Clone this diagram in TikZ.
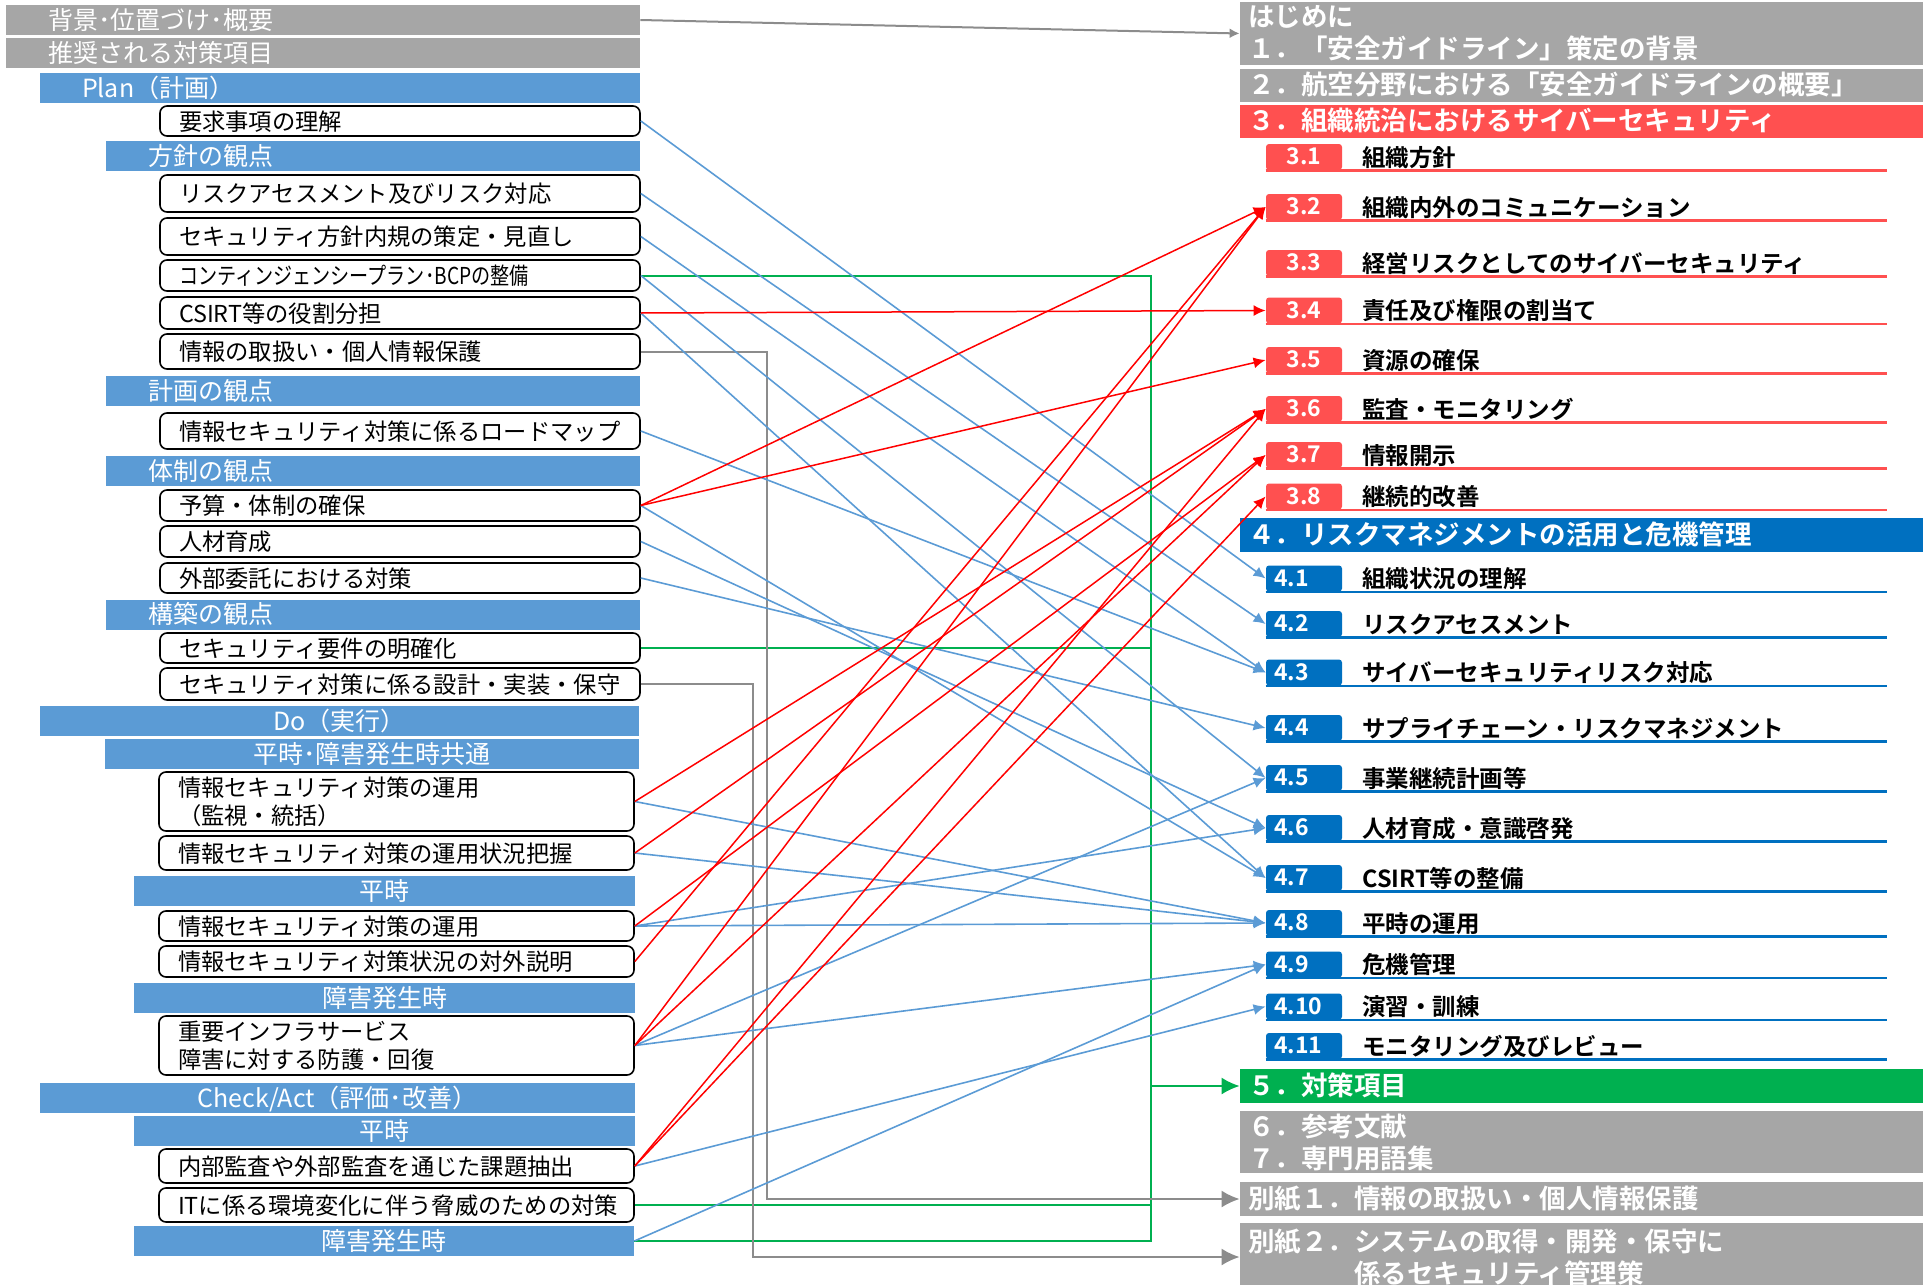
\documentclass[tikz,border=0pt]{standalone}
\usepackage{fontspec}
\usepackage{graphicx}
\usetikzlibrary{arrows.meta}
\newfontfamily\jp{Noto Sans CJK JP}[BoldFont={Noto Sans CJK JP Bold}]
\definecolor{barblue}{HTML}{5B9BD5}
\definecolor{boxgray}{HTML}{A6A6A6}
\definecolor{secred}{HTML}{FF5050}
\definecolor{secblue}{HTML}{0070C0}
\definecolor{secgreen}{HTML}{00B050}
\definecolor{linkred}{HTML}{FF0000}
\definecolor{linkgray}{HTML}{8C8C8C}
\begin{document}
\begin{tikzpicture}[x=0.5pt,y=-0.5pt]
	\tikzset{lbar/.style={fill=barblue, text=white, inner xsep=21pt, inner ysep=0pt, minimum height=15pt,
			text height=0.95em, text depth=0.05em, align=left, font=\jp\fontsize{12.5pt}{15pt}\selectfont},
		cbar/.style={lbar, align=center},
		item/.style={draw, line width=0.8pt, rounded corners=3.5pt, inner xsep=9.5pt, inner ysep=0pt,
			align=left, text width=221pt, font=\jp\fontsize{11.65pt}{14pt}\selectfont},
		one/.style={text height=0.95em, text depth=0.05em},
		hdr/.style={fill=#1, text=white, inner xsep=4pt, inner ysep=0pt, text width=333.5pt, align=left,
			font=\jp\bfseries\fontsize{13.25pt}{16pt}\selectfont},
		tabr/.style={fill=secred, text=white, minimum width=38pt, minimum height=13pt, inner sep=0pt,
			rounded corners=1.5pt, text height=0.78em, text depth=0pt, font=\jp\bfseries\fontsize{11.5pt}{13pt}\selectfont},
		tabb/.style={tabr, fill=secblue, text width=30pt, inner xsep=4pt, align=left},
		tablab/.style={anchor=west, inner sep=0pt, text height=0.95em, text depth=0.05em,
			font=\jp\bfseries\fontsize{11.75pt}{13pt}\selectfont},
		uline/.style={draw=#1, line width=1.2pt},
		rl/.style={draw=linkred, line width=0.75pt, -{Latex[length=6pt,width=5.5pt]}},
		bl/.style={draw=barblue, line width=0.8pt, -{Latex[length=6pt,width=5.5pt]}},
		gl/.style={draw=secgreen, line width=1pt},
		grl/.style={draw=linkgray, line width=1pt},
		bigtip/.style={-{Latex[length=9pt,width=8.5pt]}}}
	\useasboundingbox (0,0) rectangle (1923,1285);
	
	%Linke Spalte
	\node[lbar, fill=boxgray, text width=275pt] (bg)  at (323,20) {背景･位置づけ･概要};
	\node[lbar, fill=boxgray, text width=275pt] (rec) at (323,53) {推奨される対策項目};
	\node[lbar, text width=258pt]  (plan)    at (340,88)  {Plan（計画）};
	\node[item, one, minimum height=15pt]   (req)    at (400,121)   {要求事項の理解};
	\node[lbar, text width=225pt]  (hoshin)  at (373,156) {方針の観点};
	\node[item, one, minimum height=18.5pt] (risk)   at (400,193.5) {リスクアセスメント及びリスク対応};
	\node[item, one, minimum height=18.5pt] (policy) at (400,236.5) {セキュリティ方針内規の策定・見直し};
	\node[item, one, minimum height=15.5pt] (bcp)    at (400,275.5) {\scalebox{0.82}[1]{コンティンジェンシープラン･BCPの整備}};
	\node[item, one, minimum height=16pt]   (csirt)  at (400,313)   {CSIRT等の役割分担};
	\node[item, one, minimum height=17.5pt] (pinfo)  at (400,351.5) {情報の取扱い・個人情報保護};
	\node[lbar, text width=225pt]  (keikaku) at (373,391) {計画の観点};
	\node[item, one, minimum height=18pt]   (road)   at (400,431)   {情報セキュリティ対策に係るロードマップ};
	\node[lbar, text width=225pt]  (taisei)  at (373,471) {体制の観点};
	\node[item, one, minimum height=15.5pt] (budget) at (400,505.5) {予算・体制の確保};
	\node[item, one, minimum height=15.5pt] (hr)     at (400,541.5) {人材育成};
	\node[item, one, minimum height=15pt]   (outs)   at (400,578)   {外部委託における対策};
	\node[lbar, text width=225pt]  (kochiku) at (373,614.5) {構築の観点};
	\node[item, one, minimum height=15pt]   (reqs)   at (400,648)   {セキュリティ要件の明確化};
	\node[item, one, minimum height=16pt]   (design) at (400,684)   {セキュリティ対策に係る設計・実装・保守};
	
	\node[cbar, text width=257.5pt] (do)     at (339.5,721) {Do（実行）};
	\node[cbar, text width=225pt]   (common) at (372,754)   {平時･障害発生時共通};
	\node[item, text width=218.5pt, minimum height=29.5pt] (mon) at (396.5,801.5) {情報セキュリティ対策の運用\\（監視・統括）};
	\node[item, one, text width=218.5pt, minimum height=17pt]  (stat) at (396.5,853) {情報セキュリティ対策の運用状況把握};
	\node[cbar, text width=208.5pt] (dhei)   at (384.5,891) {平時};
	\node[item, one, text width=218.5pt, minimum height=15pt]  (ops)  at (396.5,926) {情報セキュリティ対策の運用};
	\node[item, one, text width=218.5pt, minimum height=15.5pt] (disc) at (396.5,961.5) {情報セキュリティ対策状況の対外説明};
	\node[cbar, text width=208.5pt] (dinc)   at (384.5,998) {障害発生時};
	\node[item, text width=218.5pt, minimum height=29.5pt] (infra) at (396.5,1045.5) {重要インフラサービス\\障害に対する防護・回復};
	
	\node[cbar, text width=255.5pt] (check)  at (337.5,1098) {Check/Act（評価･改善）};
	\node[cbar, text width=208.5pt] (chei)   at (384.5,1131) {平時};
	\node[item, one, text width=218.5pt, minimum height=17pt] (audit) at (396.5,1166) {内部監査や外部監査を通じた課題抽出};
	\node[item, one, text width=218.5pt, minimum height=17pt] (itenv) at (396.5,1205) {ITに係る環境変化に伴う脅威のための対策};
	\node[cbar, text width=208pt]   (cinc)   at (384,1241)  {障害発生時};
	
	%Rechte Spalte
	\node[hdr=boxgray, minimum height=31.5pt] (intro) at (1581.5,33.5) {はじめに\\１．「安全ガイドライン」策定の背景};
	\node[hdr=boxgray, one, minimum height=16.5pt] (gaiyo) at (1581.5,85.5) {２．航空分野における「安全ガイドラインの概要」};
	\node[hdr=secred, one, minimum height=16.5pt] (sec3) at (1581.5,121.5) {３．組織統治におけるサイバーセキュリティ};
	
	\node[tabr] (t31) at (1304,157)   {3.1};
	\node[tablab] (l31) at (1362,157)   {組織方針};
	\draw[uline=secred] (t31.south west) -- ++(621,0);
	\node[tabr] (t32) at (1304,207)   {3.2};
	\node[tablab] (l32) at (1362,207)   {組織内外のコミュニケーション};
	\draw[uline=secred] (t32.south west) -- ++(621,0);
	\node[tabr] (t33) at (1304,263)   {3.3};
	\node[tablab] (l33) at (1362,263)   {経営リスクとしてのサイバーセキュリティ};
	\draw[uline=secred] (t33.south west) -- ++(621,0);
	\node[tabr] (t34) at (1304,310.5) {3.4};
	\node[tablab] (l34) at (1362,310.5) {責任及び権限の割当て};
	\draw[uline=secred] (t34.south west) -- ++(621,0);
	\node[tabr] (t35) at (1304,360)   {3.5};
	\node[tablab] (l35) at (1362,360)   {資源の確保};
	\draw[uline=secred] (t35.south west) -- ++(621,0);
	\node[tabr] (t36) at (1304,409)   {3.6};
	\node[tablab] (l36) at (1362,409)   {監査・モニタリング};
	\draw[uline=secred] (t36.south west) -- ++(621,0);
	\node[tabr] (t37) at (1304,455)   {3.7};
	\node[tablab] (l37) at (1362,455)   {情報開示};
	\draw[uline=secred] (t37.south west) -- ++(621,0);
	\node[tabr] (t38) at (1304,496.5) {3.8};
	\node[tablab] (l38) at (1362,496.5) {継続的改善};
	\draw[uline=secred] (t38.south west) -- ++(621,0);
	
	\node[hdr=secblue, one, minimum height=17pt] (sec4) at (1581.5,535) {４．リスクマネジメントの活用と危機管理};
	\node[tabb] (t41) at (1304,578.5)  {4.1};
	\node[tablab] (l41) at (1362,578.5)  {組織状況の理解};
	\draw[uline=secblue] (t41.south west) -- ++(621,0);
	\node[tabb] (t42) at (1304,624)    {4.2};
	\node[tablab] (l42) at (1362,624)    {リスクアセスメント};
	\draw[uline=secblue] (t42.south west) -- ++(621,0);
	\node[tabb] (t43) at (1304,672.5)  {4.3};
	\node[tablab] (l43) at (1362,672.5)  {サイバーセキュリティリスク対応};
	\draw[uline=secblue] (t43.south west) -- ++(621,0);
	\node[tabb] (t44) at (1304,728)    {4.4};
	\node[tablab] (l44) at (1362,728)    {サプライチェーン・リスクマネジメント};
	\draw[uline=secblue] (t44.south west) -- ++(621,0);
	\node[tabb] (t45) at (1304,778)    {4.5};
	\node[tablab] (l45) at (1362,778)    {事業継続計画等};
	\draw[uline=secblue] (t45.south west) -- ++(621,0);
	\node[tabb] (t46) at (1304,828)    {4.6};
	\node[tablab] (l46) at (1362,828)    {人材育成・意識啓発};
	\draw[uline=secblue] (t46.south west) -- ++(621,0);
	\node[tabb] (t47) at (1304,878)    {4.7};
	\node[tablab] (l47) at (1362,878)    {CSIRT等の整備};
	\draw[uline=secblue] (t47.south west) -- ++(621,0);
	\node[tabb] (t48) at (1304,923)    {4.8};
	\node[tablab] (l48) at (1362,923)    {平時の運用};
	\draw[uline=secblue] (t48.south west) -- ++(621,0);
	\node[tabb] (t49) at (1304,964.5)  {4.9};
	\node[tablab] (l49) at (1362,964.5)  {危機管理};
	\draw[uline=secblue] (t49.south west) -- ++(621,0);
	\node[tabb] (t410) at (1304,1006.5) {4.10};
	\node[tablab] (l410) at (1362,1006.5) {演習・訓練};
	\draw[uline=secblue] (t410.south west) -- ++(621,0);
	\node[tabb] (t411) at (1304,1046)   {4.11};
	\node[tablab] (l411) at (1362,1046)   {モニタリング及びレビュー};
	\draw[uline=secblue] (t411.south west) -- ++(621,0);
	
	\node[hdr=secgreen, one, minimum height=17pt] (sec5) at (1581.5,1086) {５．対策項目};
	\node[hdr=boxgray, minimum height=31pt] (ref) at (1581.5,1142) {６．参考文献\\７．専門用語集};
	\node[hdr=boxgray, one, minimum height=17pt] (app1) at (1581.5,1199) {別紙１．情報の取扱い・個人情報保護};
	\node[hdr=boxgray, minimum height=34pt] (app2) at (1581.5,1257) {別紙２．システムの取得・開発・保守に\\\hspace*{4em}係るセキュリティ管理策};
	
	%Sammelleitungen
	\coordinate (busx) at (1151,0);
	\coordinate (ga) at (767,0);
	\coordinate (gb) at (753,0);
	\draw[gl] (bcp.east) -- (bcp.east -| busx) -- (cinc.east -| busx) -- (cinc.east);
	\draw[gl] (reqs.east) -- (reqs.east -| busx);
	\draw[gl] (itenv.east) -- (itenv.east -| busx);
	\draw[gl, bigtip] (sec5.west -| busx) -- (sec5.west);
	\draw[grl, -{Latex[length=5pt,width=5pt]}] (bg.east) -- (intro.west);
	\draw[grl, bigtip] (pinfo.east) -| (ga |- app1.west) -- (app1.west);
	\draw[grl, bigtip] (design.east) -| (gb |- app2.west) -- (app2.west);
	
	%Blau
	\draw[bl] (req.east)    -- (t41.west);
	\draw[bl] (risk.east)   -- (t42.west);
	\draw[bl] (policy.east) -- (t43.west);
	\draw[bl] (road.east)   -- (t43.west);
	\draw[bl] (bcp.east)    -- (t45.west);
	\draw[bl] (csirt.east)  -- (t47.west);
	\draw[bl] (budget.east) -- (t47.west);
	\draw[bl] (hr.east)     -- (t46.west);
	\draw[bl] (outs.east)   -- (t44.west);
	\draw[bl] (mon.east)    -- (t48.west);
	\draw[bl] (stat.east)   -- (t48.west);
	\draw[bl] (ops.east)    -- (t46.west);
	\draw[bl] (ops.east)    -- (t48.west);
	\draw[bl] (infra.east)  -- (t45.west);
	\draw[bl] (infra.east)  -- (t49.west);
	\draw[bl] (audit.east)  -- (t410.west);
	\draw[bl] (cinc.east)   -- (t49.west);
	
	%Rot
	\draw[rl] (budget.east) -- (t32.west);
	\draw[rl] (budget.east) -- (t35.west);
	\draw[rl] (csirt.east)  -- (t34.west);
	\draw[rl] (mon.east)    -- (t36.west);
	\draw[rl] (stat.east)   -- (t36.west);
	\draw[rl] (ops.east)    -- (t37.west);
	\draw[rl] (disc.east)   -- (t32.west);
	\draw[rl] (infra.east)  -- (t32.west);
	\draw[rl] (infra.east)  -- (t37.west);
	\draw[rl] (audit.east)  -- (t36.west);
	\draw[rl] (audit.east)  -- (t38.west);
	
\end{tikzpicture}
\end{document}
